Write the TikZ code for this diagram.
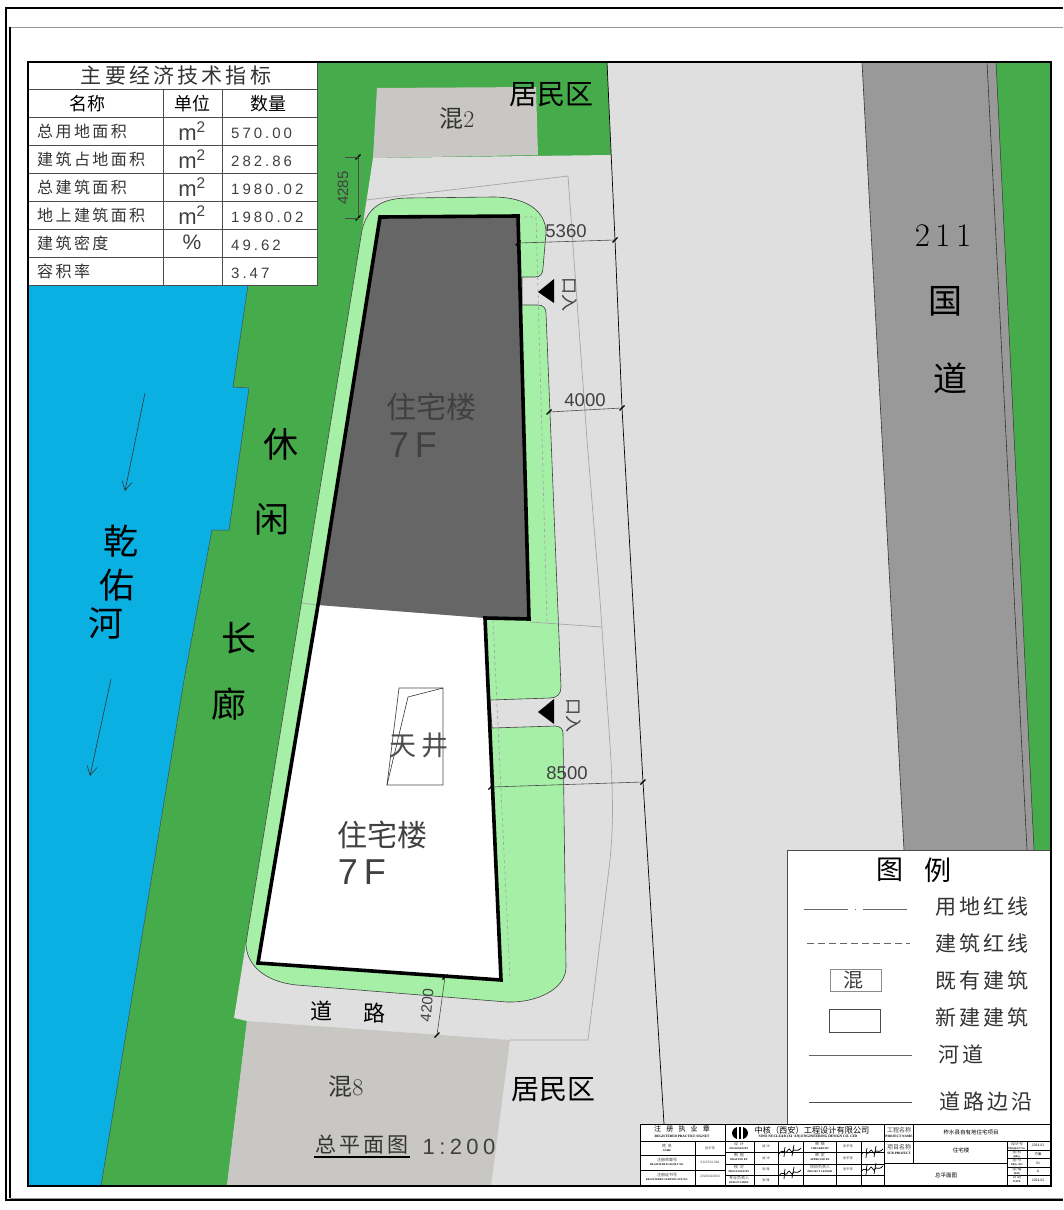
\documentclass[tikz,border=0pt]{standalone}
\usepackage{fontspec}
\newfontfamily\cjk{Noto Sans CJK SC}
\newfontfamily\cjksp[LetterSpace=15]{Noto Sans CJK SC}
\newfontfamily\numfont{Liberation Sans}
\newfontfamily\numsp[LetterSpace=20]{Liberation Sans}
\newfontfamily\stamp{Liberation Serif}
\usetikzlibrary{arrows.meta}
\definecolor{bank}{HTML}{46AB4B}
\definecolor{lawn}{HTML}{A5EFA6}
\definecolor{river}{HTML}{0BB0E3}
\definecolor{paving}{HTML}{DFDFDF}
\definecolor{highway}{HTML}{999999}
\definecolor{oldhouse}{HTML}{C8C7C3}
\definecolor{tower}{HTML}{666666}
\tikzset{
	lab/.style={font=\cjk\fontsize{#1}{#1}\selectfont,inner sep=0pt},
	labsp/.style={font=\cjksp\fontsize{#1}{#1}\selectfont,inner sep=0pt,text=black!80},
	dimtext/.style={font=\numfont\fontsize{#1}{#1}\selectfont,inner sep=0pt,text=black!75},
	valtext/.style={font=\numsp\fontsize{#1}{#1}\selectfont,inner sep=0pt,text=black!75},
	entext/.style={font=\stamp\bfseries\fontsize{#1}{#1}\selectfont,inner sep=0pt},
	hair/.style={draw=black!35,line width=0.7pt},
	dimline/.style={draw=black!70,line width=0.6pt},
	dimtick/.pic={\draw[black,line width=1.2pt] (-2.5,2.5) -- (2.5,-2.5);},
	sign/.pic={\draw[black,line width=0.7pt] (-11,3) .. controls (-7,-4) and (-5,5) .. (-2,-1) .. controls (0,-5) and (1,4) .. (3,0) .. controls (5,-3) and (6,2) .. (11,-3) (-5,-4) .. controls (-6,0) and (-5,3) .. (-6,6) (4,-6) -- (2,5);}
}
\begin{document}
\begin{tikzpicture}[x=1pt,y=-1pt]
\useasboundingbox (0,0) rectangle (1063,1210);
\fill[white] (0,0) rectangle (1063,1210);
%sheet frame
\draw[black,line width=1.6pt] (1063,8) -- (6,8) -- (6,1200) -- (1063,1200);
\draw[black!40,line width=0.9pt] (1063,27) -- (10,27) -- (10,1198) -- (1063,1198);
\draw[black,line width=1.2pt] (10,27) -- (10,1198);
%ground
\fill[bank] (28,62) rectangle (1051,1186);
\fill[river] (28,285) -- (248,285) -- (233,387) -- (249,388) -- (229,530) -- (212,530) -- (184,680) -- (101,1186) -- (28,1186) -- cycle;
\draw[black!70,line width=0.5pt] (248,285) -- (233,387) -- (249,388) -- (229,530) -- (212,530) -- (184,680) -- (101,1186);
\fill[paving] (373,158) -- (611,155) -- (607,62) -- (910,62) -- (910,1186) -- (227,1186) -- (247,1021) -- (234,1018) -- (246,943) -- (362,230) -- cycle;
\fill[highway] (862,62) -- (996,62) -- (1034,850) -- (904,850) -- cycle;
\draw[black!80,line width=0.6pt] (862,62) -- (904,850);
\draw[black!80,line width=0.6pt] (987,62) -- (1027,850);
\draw[black!80,line width=0.5pt] (996,62) -- (1034,850);
%old houses
\fill[oldhouse] (377,88) -- (536,87) -- (538,155) -- (373,158) -- cycle;
\fill[oldhouse] (247,1021) -- (510,1040) -- (491,1186) -- (227,1186) -- cycle;
%road edge
\draw[black,line width=0.7pt] (607,62) -- (615,240) -- (622,408) -- (643,782) -- (664,1124);
%green belt
\filldraw[fill=lawn,draw=black!75,line width=0.6pt] (246,943) -- (362,230) .. controls (368,205) and (385,198) .. (409,198) -- (493,197) .. controls (525,197) and (546,210) .. (546,233) -- (543,268) .. controls (543,274) and (540,277) .. (535,277) -- (522,277) -- (522,305) -- (538,305) .. controls (543,305) and (546,308) .. (546,313) -- (561,687) .. controls (561,694) and (557,698) .. (550,698) -- (490,700) -- (492,728) -- (555,726) .. controls (560,726) and (563,729) .. (563,733) -- (566,967) .. controls (566,990) and (535,1003) .. (507,1002) -- (297,985) .. controls (265,982) and (246,965) .. (246,943) -- cycle;
%red lines
\draw[hair] (366,200) -- (568,176) -- (587,440) -- (600,600) -- (603,643) .. controls (610,750) and (616,800) .. (610,860) -- (588,1040) -- (510,1040);
\draw[hair] (530,622) -- (602,627);
\draw[hair] (302,603) -- (318,605);
\draw[hair,dashed] (518,217) -- (536,217) -- (547,622);
\draw[hair,dashed] (493,620) -- (510,980);
%building
\fill[white] (318,605) -- (485,618) -- (501,980) -- (258,963) -- cycle;
\fill[tower] (380,217) -- (518,216) -- (529,619) -- (485,618) -- (318,605) -- cycle;
\draw[black,line width=3.6pt,line join=miter] (318,605) -- (380,217) -- (518,216) -- (529,619) -- (485,618) -- (501,980) -- (258,963) -- (318,605);
\draw[black!70,line width=0.7pt] (399,688) -- (443,688) -- (443,785) -- (387,785) -- cycle;
\draw[black!80,line width=0.6pt] (387,785) -- (408,697) -- (443,688);
%gates
\fill[black] (538,292) -- (554,279) -- (554,303) -- cycle;
\fill[black] (538,712) -- (554,699) -- (554,724) -- cycle;
\node[lab=17,rotate=-90,text=black!75] (gateA) at (570,294) {口入};
\node[lab=17,rotate=-90,text=black!75] (gateB) at (574,715) {口入};
%dimensions
\coordinate (dAa) at (358,157);
\coordinate (dAb) at (358,218);
\coordinate (dBa) at (518,243);
\coordinate (dBb) at (615,240);
\coordinate (dCa) at (549,412);
\coordinate (dCb) at (622,408);
\coordinate (dDa) at (491,787);
\coordinate (dDb) at (643,782);
\coordinate (dEa) at (445,977);
\coordinate (dEb) at (437,1035);
\foreach \a/\b in {dAa/dAb,dBa/dBb,dCa/dCb,dDa/dDb,dEa/dEb}{
	\draw[dimline] (\a) -- (\b);
	\pic at (\a) {dimtick};
	\pic at (\b) {dimtick};
}
\draw[dimline] (345,157) -- (dAa);
\draw[dimline] (345,218) -- (dAb);
\node[dimtext=15,rotate=90] (dimA) at (343,188) {4285};
\node[dimtext=18.5] (dimB) at (566,231) {5360};
\node[dimtext=18.5] (dimC) at (585,400) {4000};
\node[dimtext=18.5] (dimD) at (567,773) {8500};
\node[dimtext=15,rotate=85] (dimE) at (427,1005) {4200};
%river flow
\draw[black!80,line width=0.6pt,-{Straight Barb[length=9pt,width=10pt]}] (145,393) -- (125,491);
\draw[black!80,line width=0.6pt,-{Straight Barb[length=9pt,width=10pt]}] (111,679) -- (90,776);
%names on the plan
\node[lab=28] (areaA) at (551,95) {居民区};
\node[lab=28] (areaB) at (553,1090) {居民区};
\node[font=\fontsize{24}{24}\selectfont,inner sep=0pt,text=black!80] (houseA) at (457,119) {{\cjk 混}2};
\node[font=\fontsize{24}{24}\selectfont,inner sep=0pt,text=black!80] (houseB) at (346,1087) {{\cjk 混}8};
\node[font=\fontsize{33}{33}\selectfont,inner sep=0pt] (roadA) at (943,236) {2\,1\,1};
\node[lab=34] (roadB) at (945,301) {国};
\node[lab=34] (roadC) at (950,378) {道};
\node[lab=35] (riverA) at (121,541) {乾};
\node[lab=35] (riverB) at (117,585) {佑};
\node[lab=35] (riverC) at (106,623) {河};
\node[lab=35] (walkA) at (281,444) {休};
\node[lab=35] (walkB) at (272,519) {闲};
\node[lab=35] (walkC) at (239,638) {长};
\node[lab=35] (walkD) at (229,704) {廊};
\node[lab=22] (streetA) at (321,1011) {道};
\node[lab=22] (streetB) at (374,1013) {路};
\node[lab=30,text=black!75] (towerA) at (431,407) {住宅楼};
\node[dimtext=36] (floorA) at (413,445) {7\,F};
\node[lab=30,text=black!75] (towerB) at (382,835) {住宅楼};
\node[dimtext=36] (floorB) at (362,872) {7\,F};
\node[lab=27,text=black!70] (court) at (419,745) {天\,井};
\node[labsp=21] (plan) at (362,1145) {总平面图};
\draw[black,line width=1.6pt] (314,1157) -- (410,1157);
\node[valtext=22] (planscale) at (459,1147) {1:200};
%index table
\fill[white] (29,62) rectangle (317,285);
\draw[black,line width=1pt] (29,62) -- (317,62);
\draw[black!70,line width=0.8pt] (317,62) -- (317,285) -- (29,285);
\foreach \y in {89,117,145,173,201,229,257}{
	\draw[black!70,line width=0.8pt] (29,\y) -- (317,\y);
}
\foreach \x in {163,222}{
	\draw[black!70,line width=0.7pt] (\x,89) -- (\x,285);
}
\node[labsp=21] (tabtitle) at (176,75) {主要经济技术指标};
\node[lab=18] (headA) at (87,104) {名称};
\node[lab=18] (headB) at (192,104) {单位};
\node[lab=18] (headC) at (268,104) {数量};
\foreach \y/\what/\val [count=\i] in {131/总用地面积/570.00,159/建筑占地面积/282.86,187/总建筑面积/1980.02,215/地上建筑面积/1980.02,243/建筑密度/49.62,271/容积率/3.47}{
	\node[labsp=16,anchor=west] (what\i) at (37,\y) {\what};
	\node[valtext=15,anchor=west] (val\i) at (231,\y+2) {\val};
}
\foreach \y [count=\i] in {131,159,187,215}{
	\node[dimtext=22] (unit\i) at (192,\y) {m\textsuperscript{2}};
}
\node[dimtext=21] (unit5) at (192,242) {\%};
%legend
\filldraw[fill=white,draw=black!70,line width=0.8pt] (787,850) rectangle (1051,1124);
\draw[black,line width=1.4pt] (1051,850) -- (1051,1186);
\node[lab=27] (legA) at (890,870) {图};
\node[lab=27] (legB) at (938,870) {例};
\draw[black!60,line width=0.7pt] (804,909) -- (848,909) (855,909) -- (856,909) (863,909) -- (907,909);
\draw[black!60,line width=0.7pt,dash pattern=on 7pt off 4pt] (807,943) -- (910,943);
\draw[black!45,line width=0.7pt] (830,969) rectangle (881,991);
\node[lab=20,text=black!75] (legold) at (853,980) {混};
\draw[black!70,line width=0.8pt] (829,1009) rectangle (880,1032);
\draw[black!60,line width=0.7pt] (809,1055) -- (912,1055);
\draw[black!70,line width=0.7pt] (809,1102) -- (912,1102);
\foreach \y/\what/\xx [count=\i] in {907/用地红线/982,943/建筑红线/982,981/既有建筑/982,1017/新建建筑/982,1054/河道/961,1101/道路边沿/986}{
	\node[labsp=21] (leg\i) at (\xx,\y) {\what};
}
%title block
\filldraw[fill=white,draw=black,line width=1pt] (640,1124) rectangle (1050,1186);
\draw[black,line width=0.8pt] (640,1141) -- (1050,1141);
\foreach \x in {725,884}{
	\draw[black,line width=0.8pt] (\x,1124) -- (\x,1186);
}
\draw[black,line width=0.7pt] (913,1124) -- (913,1163);
\draw[black,line width=0.7pt] (884,1163) -- (1007,1163);
\foreach \x in {695,754,778,803,836,861,1007,1027}{
	\draw[black,line width=0.6pt] (\x,1141) -- (\x,1186);
}
\foreach \y in {1155,1170}{
	\draw[black,line width=0.6pt] (640,\y) -- (725,\y);
}
\foreach \y in {1152,1164,1175}{
	\draw[black,line width=0.6pt] (725,\y) -- (884,\y);
}
\foreach \y in {1150,1158,1167,1175}{
	\draw[black,line width=0.6pt] (1007,\y) -- (1050,\y);
}
\node[font=\cjksp\fontsize{7}{7}\selectfont,inner sep=0pt] (seal) at (682,1129) {注\ \ 册\ \ 执\ \ 业\ \ 章};
\node[entext=3.4] (sealen) at (682,1136) {REGISTERED PRACTICE SIGNET};
\fill[black] (740,1133) ellipse (8 and 6.5);
\fill[white] (737,1126) rectangle (743,1140);
\fill[black] (739,1127) rectangle (741,1139);
\node[lab=8.2] (firm) at (812,1130) {中核（西安）工程设计有限公司};
\node[entext=3.6] (firmen) at (808,1137) {SINO NUCLEAR (XI 'AN) ENGINEERING DESIGN CO. LTD};
\foreach \x/\y/\zh/\en [count=\i] in {667/1146/姓\ \ 名/NAME,667/1160/注册师章号/REGISTERED SIGNET NO.,667/1175/注册证书号/REGISTERED CERTIFICATE NO.,739/1144/设\ \ 计/DESIGNED BY,739/1155/制\ \ 图/DRAFTED BY,739/1167/校\ \ 对/PROCESSED BY,739/1178/专业负责人/DESIGN CHIEF,820/1144/审\ \ 核/CHECKED BY,820/1155/审\ \ 定/APPROVED BY,820/1167/项目负责人/PROJECT LEADER,1017/1144/设计号/PROJECT No.,1017/1152/图\ 别/DRG.,1017/1160/图\ 号/DRG. NO.,1017/1169/图\ 幅/SIZE,1017/1177/日\ 期/DATE}{
	\node[lab=4,text=black!75] (sta\i) at (\x,\y) {\zh};
	\node[entext=2.7] (stb\i) at (\x,\y+4.5) {\en};
}
\foreach \x/\y/\zh [count=\i] in {710/1148/张平伟,710/1162/6114724-084,710/1176/20226410864,766/1146/姚\ 冲,766/1158/姚\ 冲,766/1169/张\ 锋,766/1180/张\ 锋,848/1146/张平伟,848/1158/张平伟,848/1169/张平伟}{
	\node[lab=3.2,text=black!75] (stc\i) at (\x,\y) {\zh};
}
\foreach \x/\y/\zh [count=\i] in {1038/1145/2024.02,1038/1154/方案,1038/1163/01,1038/1171/A,1038/1180/2024.02}{
	\node[lab=3.4] (std\i) at (\x,\y) {\zh};
}
\node[lab=6,text=black!75] (pnameA) at (899,1130) {工程名称};
\node[entext=3.4] (pnameB) at (899,1136) {PROJECT NAME};
\node[lab=6,text=black!75] (snameA) at (899,1147) {项目名称};
\node[entext=3.4] (snameB) at (899,1153) {SUB PROJECT};
\node[lab=5.5] (pname) at (971,1132) {柞水县自有地住宅项目};
\node[lab=5.5] (sname) at (961,1150) {住宅楼};
\node[lab=5.5] (dname) at (946,1175) {总平面图};
\pic at (790,1151) {sign};
\pic at (790,1173) {sign};
\pic at (872,1152) {sign};
\pic at (872,1169) {sign};
%map border
\draw[black,line width=1.6pt] (28,62) rectangle (1051,1186);
\end{tikzpicture}
\end{document}
